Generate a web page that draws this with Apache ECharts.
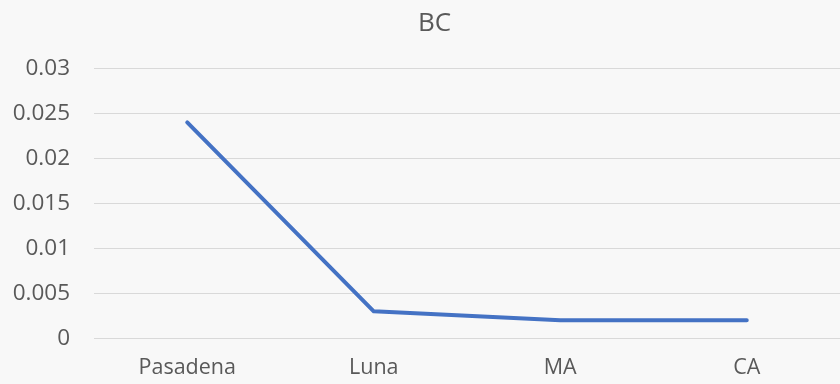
<!DOCTYPE html>
<html>
<head>
<meta charset="utf-8">
<script src="https://cdn.jsdelivr.net/npm/echarts@6/dist/echarts.min.js"></script>
<style>
  html, body { margin: 0; padding: 0; background: #f8f8f8; }
  #chart { width: 840px; height: 384px; }
</style>
</head>
<body>
<div id="chart"></div>
<script>
// Sites along the x axis and the BC value measured at each
const sites = ['Pasadena', 'Luna', 'MA', 'CA'];
const bcValues = [0.024, 0.003, 0.002, 0.002];

const textColor = '#595959';
const fontFamily = '"Open Sans", "Liberation Sans", sans-serif';

const chart = echarts.init(document.getElementById('chart'));
chart.setOption({
  backgroundColor: '#f8f8f8',
  animation: false,
  title: {
    text: 'BC',
    left: 413,
    top: 6,
    textStyle: { color: textColor, fontSize: 26, fontWeight: 'normal', fontFamily: fontFamily }
  },
  grid: { left: 94, right: -5, top: 68.3, bottom: 45.7, containLabel: false },
  xAxis: {
    type: 'category',
    data: sites,
    boundaryGap: true,
    axisLine: { show: false },
    axisTick: { show: false },
    axisLabel: { color: textColor, fontSize: 21.5, fontFamily: fontFamily, margin: 19 }
  },
  yAxis: {
    type: 'value',
    min: 0,
    max: 0.03,
    interval: 0.005,
    axisLine: { show: false },
    axisTick: { show: false },
    splitLine: { lineStyle: { color: '#d9d9d9', width: 1 } },
    axisLabel: { color: textColor, fontSize: 22.5, fontFamily: fontFamily, margin: 24 }
  },
  series: [{
    type: 'line',
    data: bcValues,
    symbol: 'none',
    lineStyle: { color: '#4472c4', width: 4, cap: 'round', join: 'round' }
  }]
});
</script>
</body>
</html>
